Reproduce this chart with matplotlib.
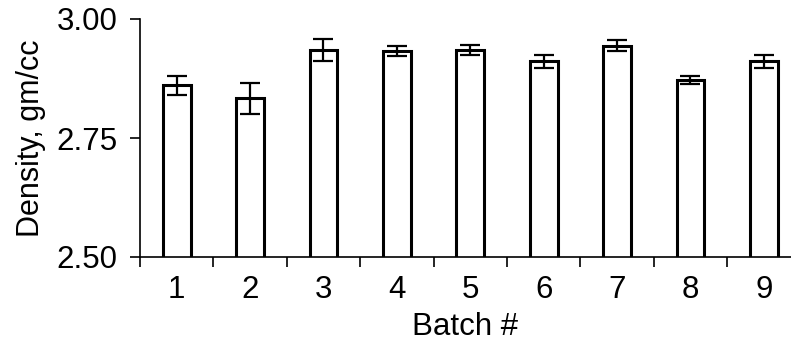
import matplotlib
matplotlib.use('Agg')
import matplotlib.pyplot as plt
import numpy as np

plt.rcParams['font.family'] = ['Liberation Sans', 'DejaVu Sans']

# Batch densities (gm/cc) with error bars
batches = ['1', '2', '3', '4', '5', '6', '7', '8', '9']
density = [2.861, 2.833, 2.935, 2.933, 2.935, 2.911, 2.944, 2.872, 2.911]
errors = [0.020, 0.033, 0.023, 0.011, 0.011, 0.013, 0.011, 0.008, 0.013]

fig = plt.figure(figsize=(7.91, 3.42), dpi=100)
ax = fig.add_axes([140 / 791, 85 / 342, 651 / 791, 238 / 342])

x = np.arange(1, len(batches) + 1)
ax.bar(x, density, width=0.38, color='white', edgecolor='black', linewidth=2.2, zorder=2)
ax.errorbar(x, density, yerr=errors, fmt='none', ecolor='black', elinewidth=1.6,
            capsize=7, capthick=1.6, zorder=3)

ax.set_xlim(0.5, 9.37)
ax.set_ylim(2.5, 3.0)

for side in ['top', 'right']:
    ax.spines[side].set_visible(False)
for side in ['left', 'bottom']:
    ax.spines[side].set_linewidth(1.2)

ax.set_yticks([2.50, 2.75, 3.00])
ax.set_yticklabels(['2.50', '2.75', '3.00'])
ax.tick_params(axis='y', length=7, width=1.2, pad=9, labelsize=22.5)

ax.set_xticks(x)
ax.set_xticklabels(batches)
ax.set_xticks(np.arange(0.5, 9.0, 1.0), minor=True)
ax.tick_params(axis='x', which='major', length=0, pad=13, labelsize=22.5)
ax.tick_params(axis='x', which='minor', length=7, width=1.2)

ax.set_xlabel('Batch #', fontsize=22.5, labelpad=5)
ax.set_ylabel('Density, gm/cc', fontsize=22, labelpad=8)

fig.savefig('out.png', dpi=100)
